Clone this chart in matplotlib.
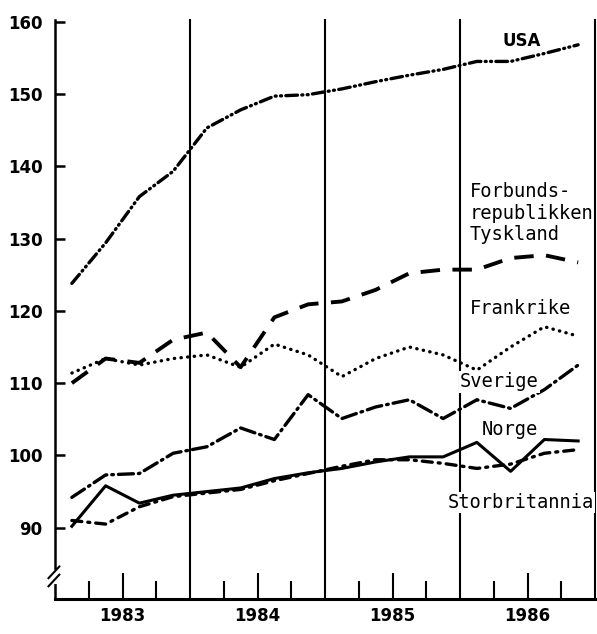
import matplotlib
matplotlib.use("Agg")
import matplotlib.pyplot as plt
import numpy as np

years = [1983, 1984, 1985, 1986]
quarters = [1, 2, 3, 4]

usa = [123.8, 129.4, 135.8, 139.3, 145.3, 147.8, 149.7, 149.9,
       150.7, 151.7, 152.6, 153.4, 154.5, 154.5, 155.6, 156.8]
tyskland = [110.0, 113.4, 112.8, 116.0, 117.0, 112.2, 119.1, 120.9,
            121.3, 122.9, 125.2, 125.7, 125.7, 127.3, 127.7, 126.7]
frankrike = [111.4, 113.4, 112.5, 113.4, 113.9, 112.2, 115.4, 113.9,
             110.9, 113.4, 115.0, 113.9, 111.8, 115.0, 117.8, 116.5]
sverige = [94.2, 97.3, 97.5, 100.3, 101.2, 103.8, 102.2, 108.4,
           105.1, 106.7, 107.7, 105.1, 107.7, 106.5, 109.1, 112.5]
norge = [90.2, 95.8, 93.4, 94.5, 95.0, 95.5, 96.8, 97.6,
         98.2, 99.1, 99.8, 99.8, 101.8, 97.8, 102.2, 102.0]
storbritannia = [91.0, 90.5, 92.9, 94.3, 94.8, 95.3, 96.5, 97.5,
                 98.5, 99.4, 99.4, 98.9, 98.2, 98.8, 100.3, 100.8]

yticks = [90, 100, 110, 120, 130, 140, 150, 160]
year_labels = ["1983", "1984", "1985", "1986"]

t = np.array([y + (q - 0.5) / 4 for y in years for q in quarters])

fig = plt.figure(figsize=(5.97, 6.34), dpi=100)
ax = fig.add_axes([55 / 597, 35 / 634, 540 / 597, (599 - 19.5) / 634])
ax.set_xlim(1983, 1987)
ax.set_ylim(80.14, 160.3)

lw = 2.4
ax.plot(t, usa, color="black", lw=lw, linestyle=(0, (3.5, 1.3, 0.3, 1.3, 0.3, 1.3)),
        dash_capstyle="round")
ax.plot(t, tyskland, color="black", lw=2.8, linestyle=(0, (5.0, 3.2)))
ax.plot(t, frankrike, color="black", lw=lw, linestyle=(0, (0.1, 1.9)),
        dash_capstyle="round")
ax.plot(t, sverige, color="black", lw=lw, linestyle=(0, (4.5, 1.5, 0.5, 1.5)),
        dash_capstyle="round")
ax.plot(t, norge, color="black", lw=2.2, linestyle="-")
ax.plot(t, storbritannia, color="black", lw=lw, linestyle=(0, (3.0, 1.8, 0.6, 1.8)),
        dash_capstyle="round")

for yb in years[1:] + [1987]:
    ax.axvline(yb, color="black", lw=1.5, clip_on=False, zorder=1)

for s in ["top", "right"]:
    ax.spines[s].set_visible(False)
ax.spines["left"].set_linewidth(1.8)
ax.spines["bottom"].set_linewidth(2.2)

ax.set_yticks(yticks)
ax.set_yticklabels([str(v) for v in yticks])
ax.tick_params(axis="y", direction="in", length=7, width=1.8, pad=9,
               labelsize=12)
for lab in ax.get_yticklabels():
    lab.set_fontweight("bold")

mids = [y + 0.5 for y in years]
ax.set_xticks(mids)
ax.set_xticklabels(year_labels)
ax.set_xticks([y + f for y in years for f in (0.25, 0.75)], minor=True)
ax.tick_params(axis="x", which="major", direction="in", length=19, width=1.5,
               pad=6, labelsize=12)
ax.tick_params(axis="x", which="minor", direction="in", length=13, width=1.5)
for lab in ax.get_xticklabels():
    lab.set_fontweight("bold")

# axis break marks
ax.plot([0, 0], [0.03, 0.047], transform=ax.transAxes, color="white", lw=3,
        clip_on=False, zorder=6)
for dy in (0.0, 0.014):
    ax.plot([-0.012, 0.008], [0.022 + dy, 0.042 + dy], transform=ax.transAxes,
            color="black", lw=1.5, clip_on=False, zorder=7)

mono = "DejaVu Sans Mono"
box = dict(facecolor="white", edgecolor="none", pad=1.0)
ax.text(1986.46, 157.3, "USA", ha="center", va="center", fontsize=12,
        family="DejaVu Sans", fontweight="bold")
ax.text(1986.074, 133.5, "Forbunds-\nrepublikken\nTyskland", ha="left", va="center",
        fontsize=13.5, family=mono, linespacing=1.15)
ax.text(1986.074, 120.3, "Frankrike", ha="left", va="center", fontsize=13.5,
        family=mono)
ax.text(1986.0, 110.2, "Sverige", ha="left", va="center", fontsize=13.5,
        family=mono, bbox=box, zorder=5)
ax.text(1986.163, 103.6, "Norge", ha="left", va="center", fontsize=13.5,
        family=mono)
ax.text(1985.91, 93.5, "Storbritannia", ha="left", va="center", fontsize=13.5,
        family=mono, bbox=box, zorder=5)

fig.savefig("out.png", dpi=100)
